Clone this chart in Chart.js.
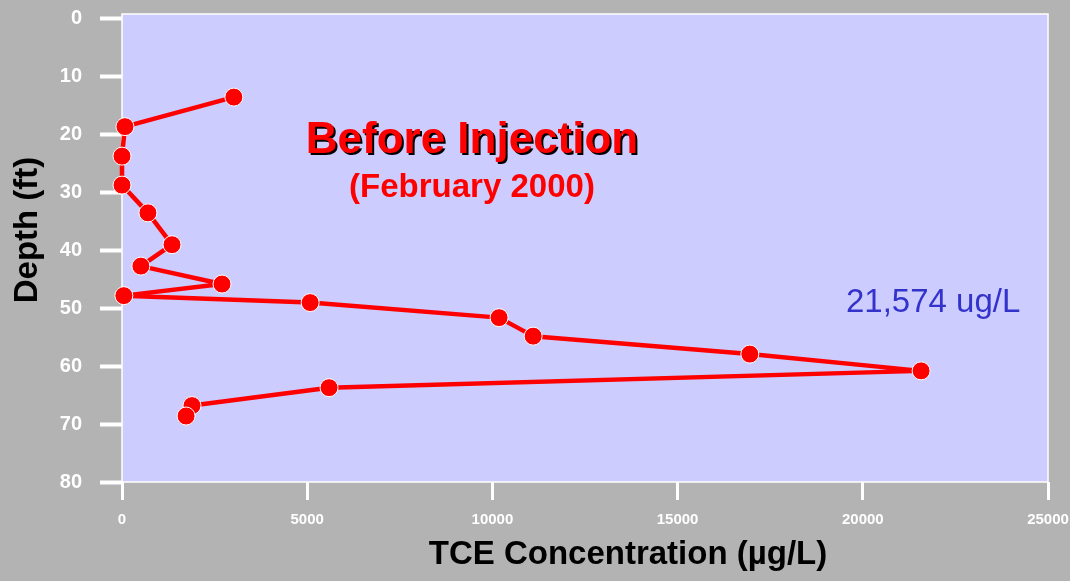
<!DOCTYPE html>
<html>
<head>
<meta charset="utf-8">
<script src="https://cdn.jsdelivr.net/npm/chart.js@4/dist/chart.umd.min.js"></script>
<style>
html,body{margin:0;padding:0;background:#b3b3b3;}
canvas{display:block;}
</style>
</head>
<body>
<canvas id="c" width="1070" height="581"></canvas>
<script>
// ---- data ----
const depthFt = [13.5, 18.6, 23.7, 28.7, 33.5, 39.0, 42.7, 45.8, 47.8, 49.0, 51.6, 54.8, 57.9, 60.8, 63.7, 66.8, 68.6];
const tceUgL  = [3020, 80, 0, 0, 700, 1350, 510, 2700, 50, 5080, 10180, 11100, 16950, 21574, 5590, 1890, 1730];
const depthTicks = [0, 10, 20, 30, 40, 50, 60, 70, 80];
const concTicks = [0, 5000, 10000, 15000, 20000, 25000];
const titleText = "Before Injection";
const subtitleText = "(February 2000)";
const peakLabel = "21,574 ug/L";
const xTitle = "TCE Concentration (\u00b5g/L)";
const yTitle = "Depth (ft)";

const FONT = "'Liberation Sans', Arial, Helvetica, sans-serif";

function zeroPad(s) { s.paddingTop = 0; s.paddingBottom = 0; s.paddingLeft = 0; s.paddingRight = 0; }

const decor = {
  id: 'decor',
  beforeDraw(chart) {
    const {ctx, chartArea: a} = chart;
    ctx.save();
    ctx.fillStyle = '#b3b3b3';
    ctx.fillRect(0, 0, chart.width, chart.height);
    ctx.fillStyle = '#ccccff';
    ctx.fillRect(a.left, a.top, a.right - a.left, a.bottom - a.top);
    ctx.restore();
  },
  beforeDatasetsDraw(chart) {
    const {ctx, chartArea: a} = chart;
    ctx.save();
    ctx.strokeStyle = '#ffffff';
    ctx.lineWidth = 1.5;
    ctx.strokeRect(a.left, a.top, a.right - a.left, a.bottom - a.top);
    ctx.restore();
  },
  afterDraw(chart) {
    const ctx = chart.ctx;
    ctx.save();
    // title with shadow
    ctx.textAlign = 'center';
    ctx.textBaseline = 'alphabetic';
    ctx.font = 'bold 44px ' + FONT;
    ctx.fillStyle = '#000000';
    ctx.fillText(titleText, 474, 155);
    ctx.fillStyle = '#ff0000';
    ctx.fillText(titleText, 472, 153);
    ctx.font = 'bold 33px ' + FONT;
    ctx.fillText(subtitleText, 472, 197);
    // peak label
    ctx.textAlign = 'left';
    ctx.font = '33px ' + FONT;
    ctx.fillStyle = '#3333cc';
    ctx.fillText(peakLabel, 846, 312);
    // axis titles
    ctx.fillStyle = '#000000';
    ctx.textAlign = 'center';
    ctx.font = 'bold 33px ' + FONT;
    ctx.fillText(xTitle, 628, 564);
    ctx.translate(37, 230);
    ctx.rotate(-Math.PI / 2);
    ctx.fillText(yTitle, 0, 0);
    ctx.restore();
  }
};

new Chart(document.getElementById('c'), {
  type: 'scatter',
  data: {
    datasets: [{
      data: tceUgL.map((x, i) => ({x: x, y: depthFt[i]})),
      showLine: true,
      borderColor: '#ff0000',
      borderWidth: 4.5,
      borderJoinStyle: 'round',
      tension: 0,
      pointRadius: 9,
      pointBackgroundColor: '#ff0000',
      pointBorderColor: '#ffffff',
      pointBorderWidth: 1,
      clip: false
    }]
  },
  options: {
    responsive: false,
    animation: false,
    layout: {padding: {left: 0, top: 14, right: 22, bottom: 0}},
    plugins: {legend: {display: false}, tooltip: {enabled: false}},
    scales: {
      x: {
        type: 'linear',
        min: 0, max: 25000,
        afterBuildTicks(s) { s.ticks = concTicks.map(v => ({value: v})); },
        afterFit(s) { s.height = 99; zeroPad(s); },
        ticks: {
          color: '#ffffff',
          font: {family: FONT, weight: 'bold', size: 15},
          padding: 11,
          maxRotation: 0,
          autoSkip: false,
          callback: v => String(v)
        },
        grid: {drawOnChartArea: false, drawTicks: true, tickLength: 18, tickWidth: 3, tickColor: '#ffffff'},
        border: {display: false}
      },
      y: {
        type: 'linear',
        reverse: true,
        min: -0.86, max: 80,
        afterBuildTicks(s) { s.ticks = depthTicks.map(v => ({value: v})); },
        afterFit(s) { s.width = 122; zeroPad(s); },
        ticks: {
          color: '#ffffff',
          font: {family: FONT, weight: 'bold', size: 20},
          padding: 18,
          autoSkip: false,
          callback: v => String(v)
        },
        grid: {drawOnChartArea: false, drawTicks: true, tickLength: 22, tickWidth: 4, tickColor: '#ffffff'},
        border: {display: false}
      }
    }
  },
  plugins: [decor]
});
</script>
</body>
</html>
